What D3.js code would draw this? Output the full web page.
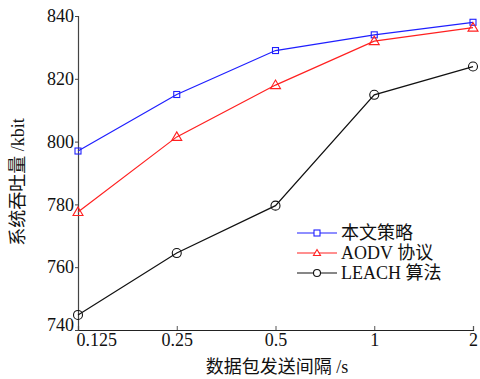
<!DOCTYPE html>
<html>
<head>
<meta charset="utf-8">
<script src="https://cdn.jsdelivr.net/npm/d3@7"></script>
<style>
  body { margin: 0; background: #fff; }
  svg text { font-family: "Liberation Serif", "Noto Sans CJK SC", serif; fill: #111; }
</style>
</head>
<body>
<div id="chart"></div>
<script>
// 数据包发送间隔 (s) 与吞吐量 (kbit)
const intervals = ["0.125", "0.25", "0.5", "1", "2"];
const yTicks = [740, 760, 780, 800, 820, 840];
const oursVals = [797, 815, 829, 834, 838];
const aodvVals = [777.6, 801.5, 818, 832, 836.3];
const leachVals = [744.8, 764.5, 779.6, 814.9, 823.9];

const seriesNames = ["本文策略", "AODV 协议", "LEACH 算法"];
const series = [
  { name: seriesNames[0], values: oursVals, color: "#1f1fff", marker: "square" },
  { name: seriesNames[1], values: aodvVals, color: "#ff2020", marker: "triangle" },
  { name: seriesNames[2], values: leachVals, color: "#111", marker: "circle" }
];

const W = 480, H = 379;
const plotL = 78, plotR = 473, plotT = 16, plotB = 330;

const svg = d3.select("#chart").append("svg")
  .attr("width", W).attr("height", H);

const x = d3.scalePoint().domain(intervals).range([plotL, plotR]);
const y = d3.scaleLinear().domain([740, 840]).range([plotB, plotT]);

// ejes
const xAxis = svg.append("g")
  .attr("transform", `translate(0,${plotB})`)
  .call(d3.axisBottom(x).tickSize(-4).tickPadding(3));
xAxis.select(".domain").attr("stroke", "#222").attr("stroke-width", 1.2);
xAxis.selectAll(".tick line").attr("stroke", "#555");
xAxis.selectAll("text").attr("font-size", 18).attr("dy", "0.71em");
// primera etiqueta desplazada a la derecha, como en el original
xAxis.selectAll(".tick text").filter(d => d === intervals[0])
  .attr("text-anchor", "start").attr("dx", -2);

const yAxis = svg.append("g")
  .attr("transform", `translate(${plotL},0)`)
  .call(d3.axisLeft(y).tickValues(yTicks).tickSize(3).tickPadding(1));
yAxis.select(".domain").attr("stroke", "#444").attr("stroke-width", 1.2);
yAxis.selectAll(".tick line").attr("stroke", "#444");
yAxis.selectAll("text").attr("font-size", 18).attr("dy", "0.32em");
yAxis.selectAll(".tick text").filter(d => d === yTicks[0]).attr("dy", "0.05em");

// etiquetas de eje
svg.append("text")
  .attr("x", 277).attr("y", 373)
  .attr("text-anchor", "middle")
  .attr("font-size", 18)
  .text("数据包发送间隔 /s");

svg.append("text")
  .attr("transform", "translate(24,182) rotate(-90)")
  .attr("text-anchor", "middle")
  .attr("font-size", 18)
  .text("系统吞吐量 /kbit");

function drawMarker(g, type, cx, cy, color) {
  if (type === "square") {
    g.append("rect")
      .attr("x", cx - 3).attr("y", cy - 3)
      .attr("width", 6).attr("height", 6)
      .attr("fill", "none").attr("stroke", color).attr("stroke-width", 1.1);
  } else if (type === "triangle") {
    g.append("path")
      .attr("d", `M${cx},${cy - 5} L${cx + 5},${cy + 3.5} L${cx - 5},${cy + 3.5} Z`)
      .attr("fill", "none").attr("stroke", color).attr("stroke-width", 1.1);
  } else {
    g.append("circle")
      .attr("cx", cx).attr("cy", cy).attr("r", 4.5)
      .attr("fill", "none").attr("stroke", color).attr("stroke-width", 1.1);
  }
}

const line = d3.line()
  .x((d, i) => x(intervals[i]))
  .y(d => y(d));

series.forEach(s => {
  const g = svg.append("g");
  g.append("path")
    .attr("d", line(s.values))
    .attr("fill", "none")
    .attr("stroke", s.color)
    .attr("stroke-width", 1.2);
  s.values.forEach((v, i) => drawMarker(g, s.marker, x(intervals[i]), y(v), s.color));
});

// leyenda
const legend = svg.append("g");
series.forEach((s, i) => {
  const ly = 233 + i * 20;
  legend.append("line")
    .attr("x1", 297).attr("x2", 337)
    .attr("y1", ly).attr("y2", ly)
    .attr("stroke", s.color).attr("stroke-width", 1.1);
  const g = legend.append("g");
  if (s.marker === "triangle") {
    g.append("path")
      .attr("d", `M317,${ly - 3.5} L320.5,${ly + 2.5} L313.5,${ly + 2.5} Z`)
      .attr("fill", "#fff").attr("stroke", s.color).attr("stroke-width", 1.1);
  } else if (s.marker === "square") {
    g.append("rect")
      .attr("x", 314).attr("y", ly - 3).attr("width", 6).attr("height", 6)
      .attr("fill", "#fff").attr("stroke", s.color).attr("stroke-width", 1.1);
  } else {
    g.append("circle")
      .attr("cx", 317).attr("cy", ly).attr("r", 3.5)
      .attr("fill", "#fff").attr("stroke", s.color).attr("stroke-width", 1.1);
  }
  legend.append("text")
    .attr("x", 341).attr("y", ly)
    .attr("dy", "0.35em")
    .attr("font-size", 18)
    .text(s.name);
});
</script>
</body>
</html>
